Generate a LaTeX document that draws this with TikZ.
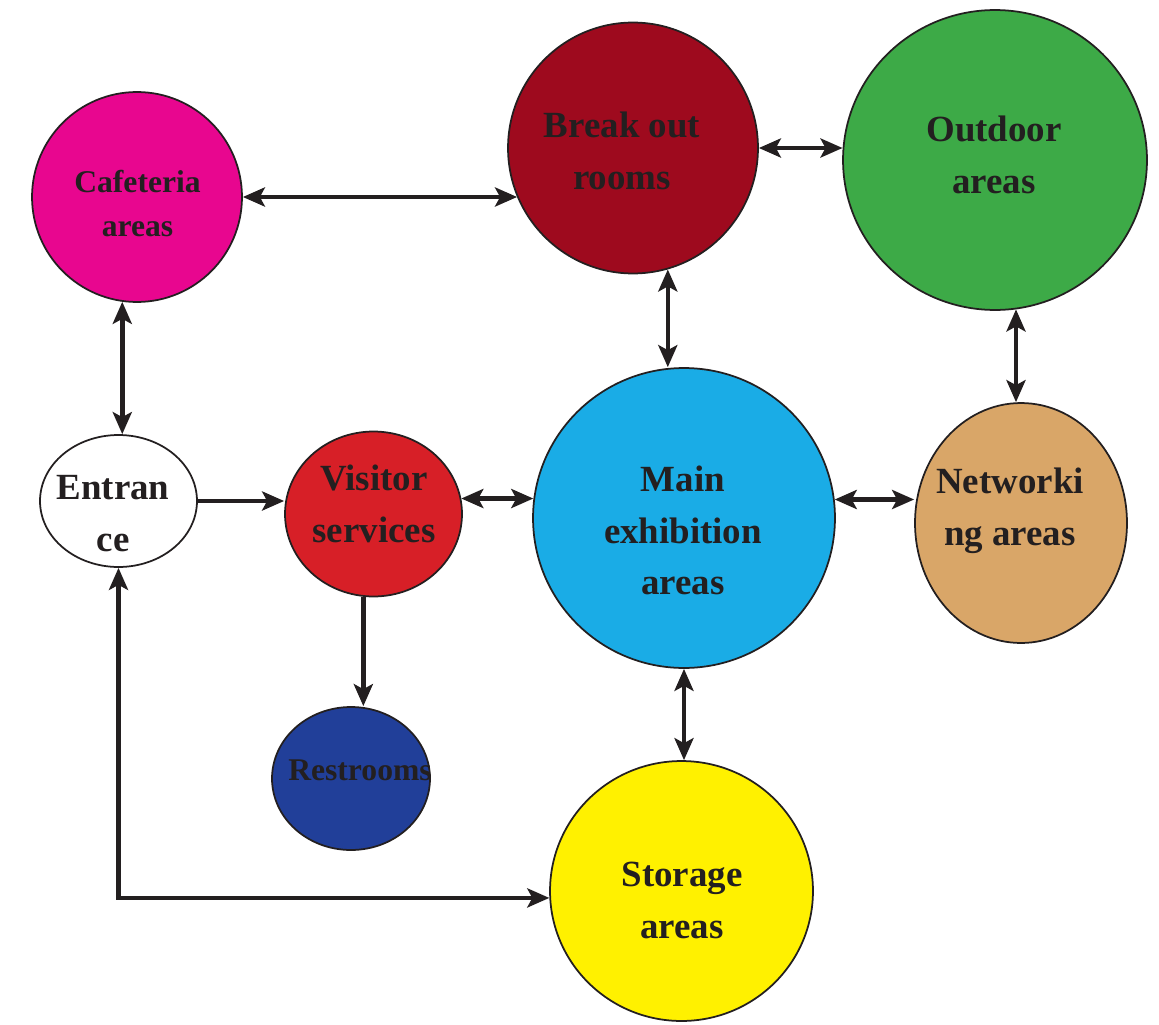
\documentclass[tikz,border=0pt]{standalone}
\usepackage{fontspec}
\setmainfont{Liberation Serif}
\usetikzlibrary{arrows.meta, shapes.geometric}
\definecolor{cInk}{HTML}{231F20}
\definecolor{cCafe}{HTML}{E8068F}
\definecolor{cBreak}{HTML}{9E0A1E}
\definecolor{cOutdoor}{HTML}{3DAA47}
\definecolor{cVisitor}{HTML}{D71F27}
\definecolor{cMain}{HTML}{1AACE6}
\definecolor{cNetwork}{HTML}{D9A668}
\definecolor{cRest}{HTML}{213F99}
\definecolor{cStorage}{HTML}{FFF100}
\tikzset{
  zone/.style={
    ellipse, draw=cInk, fill=#1, line width=0.035cm, inner sep=0pt
  },
  zonetext/.style={
    font=\bfseries\fontsize{21}{29.5}\selectfont, text=cInk, align=center,
    inner sep=0pt
  },
  link/.style={
    {Stealth[length=0.44cm, width=0.38cm, inset=0.1cm]}-{Stealth[length=0.44cm, width=0.38cm, inset=0.1cm]},
    line width=0.09cm, color=cInk
  },
  flow/.style={
    -{Stealth[length=0.44cm, width=0.38cm, inset=0.1cm]},
    line width=0.09cm, color=cInk
  },
}

\begin{document}
\begin{tikzpicture}[x=0.02cm, y=-0.02cm]
\useasboundingbox (0,0) rectangle (1159,1024);

% top row: cafeteria, break out rooms, outdoor
\node[zone=cCafe, minimum width=4.2cm, minimum height=4.2cm] (caf) at (137,197) {};
\node[zone=cBreak, minimum width=5.0cm, minimum height=5.02cm] (brk) at (633,148) {};
\node[zone=cOutdoor, minimum width=6.08cm, minimum height=6.0cm] (out) at (995,160) {};

% middle row: entrance, visitor services, main hall, networking
\node[zone=white, minimum width=3.14cm, minimum height=2.64cm] (ent) at (118.5,501) {};
\node[zone=cVisitor, minimum width=3.54cm, minimum height=3.3cm] (vis) at (373.5,514) {};
\node[zone=cMain, minimum width=6.04cm, minimum height=6.0cm] (main) at (684,518) {};
\node[zone=cNetwork, minimum width=4.24cm, minimum height=4.8cm] (net) at (1021,523) {};

% bottom row: restrooms, storage
\node[zone=cRest, minimum width=3.16cm, minimum height=2.86cm] (rest) at (351,778.5) {};
\node[zone=cStorage, minimum width=5.26cm, minimum height=5.2cm] (sto) at (681.5,891) {};

% labels
\node[zonetext, font=\bfseries\fontsize{18}{25}\selectfont] (caflbl) at (137.5,203.5) {Cafeteria\\areas};
\node[zonetext] (brklbl) at (622,150.5) {Break out\\rooms};
\node[zonetext] (outlbl) at (994,154.5) {Outdoor\\areas};
\node[zonetext] (entlbl) at (113,513.5) {Entran\\ce};
\node[zonetext] (vislbl) at (374,503.5) {Visitor\\services};
\node[zonetext] (mainlbl) at (683,530.5) {Main\\exhibition\\areas};
\node[zonetext] (netlbl) at (1010,511) {Networki\\ng areas};
\node[zonetext, font=\bfseries\fontsize{18}{22}\selectfont] (restlbl) at (360,770) {Restrooms};
\node[zonetext] (stolbl) at (682,900.5) {Storage\\areas};

% connections
\draw[link] (caf.east) -- (caf.east -| brk.203);
\draw[link] (brk.east) -- (brk.east -| out.176);
\draw[link] (caf.-98) -- (caf.-98 |- ent.north);
\draw[link] (brk.-74) -- (brk.-74 |- main.north);
\draw[link] (out.-82) -- (out.-82 |- net.north);
\draw[flow] (ent.east) -- (ent.east -| vis.west);
\draw[link] (vis.10) -- (vis.10 -| main.173);
\draw[link] (main.7) -- (main.7 -| net.west);
\draw[flow] (vis.-97) -- (vis.-97 |- rest.north);
\draw[link] (main.south) -- (main.south |- sto.north);
\draw[link] (ent.south) |- (sto.183);

\end{tikzpicture}
\end{document}
